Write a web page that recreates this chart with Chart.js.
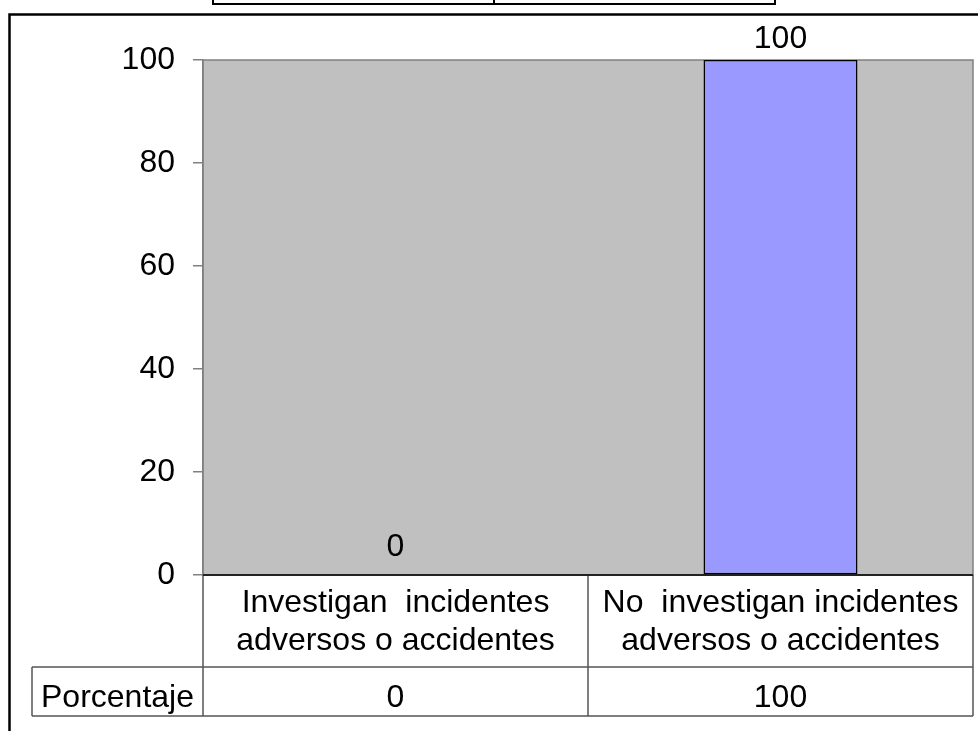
<!DOCTYPE html>
<html>
<head>
<meta charset="utf-8">
<script src="https://cdn.jsdelivr.net/npm/chart.js@4/dist/chart.umd.min.js"></script>
<style>
html,body{margin:0;padding:0;background:#fff;}
canvas{display:block;}
</style>
</head>
<body>
<canvas id="c" width="978" height="731"></canvas>
<script>
// ---- data ----
const categories = [
  ["Investigan  incidentes", "adversos o accidentes"],
  ["No  investigan incidentes", "adversos o accidentes"]
];
const seriesName = "Porcentaje";
const values = [0, 100];
const yTicks = [0, 20, 40, 60, 80, 100];

const FONT = '"Liberation Sans", Arial, sans-serif';
const FS = 32;

const decorPlugin = {
  id: 'decor',
  beforeDraw(chart) {
    const {ctx, chartArea: a} = chart;
    ctx.save();
    ctx.fillStyle = '#fff';
    ctx.fillRect(0, 0, chart.width, chart.height);
    // plot area background
    ctx.fillStyle = '#C0C0C0';
    ctx.fillRect(a.left, a.top, a.right - a.left, a.bottom - a.top);
    ctx.strokeStyle = '#808080';
    ctx.lineWidth = 1.5;
    ctx.strokeRect(a.left, a.top, a.right - a.left, a.bottom - a.top);
    ctx.restore();
  },
  afterDatasetsDraw(chart) {
    const {ctx} = chart;
    const meta = chart.getDatasetMeta(0);
    ctx.save();
    ctx.font = FS + 'px ' + FONT;
    ctx.fillStyle = '#000';
    ctx.textAlign = 'center';
    ctx.textBaseline = 'alphabetic';
    meta.data.forEach((bar, i) => {
      const v = chart.data.datasets[0].data[i];
      const off = v === 0 ? 19 : 12;
      ctx.fillText(String(v), bar.x, bar.y - off);
    });
    ctx.restore();
  },
  afterDraw(chart) {
    const {ctx, chartArea: a} = chart;
    const xs = chart.scales.x;
    const n = chart.data.labels.length;
    ctx.save();
    // column boundaries
    const bounds = [a.left];
    for (let i = 0; i < n - 1; i++) {
      bounds.push((xs.getPixelForValue(i) + xs.getPixelForValue(i + 1)) / 2);
    }
    bounds.push(a.right);
    const rowTop = a.bottom, rowMid = a.bottom + 92, rowBot = a.bottom + 141;
    const labelLeft = 32;
    ctx.strokeStyle = '#555';
    ctx.lineWidth = 1.5;
    ctx.beginPath();
    bounds.forEach((bx, i) => {
      ctx.moveTo(bx, rowTop);
      ctx.lineTo(bx, rowBot);
    });
    ctx.moveTo(labelLeft, rowMid); ctx.lineTo(a.right, rowMid);
    ctx.moveTo(labelLeft, rowBot); ctx.lineTo(a.right, rowBot);
    ctx.moveTo(labelLeft, rowMid); ctx.lineTo(labelLeft, rowBot);
    ctx.stroke();
    // axis baseline
    ctx.strokeStyle = '#222';
    ctx.lineWidth = 2;
    ctx.beginPath();
    ctx.moveTo(a.left, a.bottom); ctx.lineTo(a.right, a.bottom);
    ctx.stroke();
    // texts
    ctx.font = FS + 'px ' + FONT;
    ctx.fillStyle = '#000';
    ctx.textAlign = 'center';
    ctx.textBaseline = 'alphabetic';
    chart.data.labels.forEach((lab, i) => {
      const cx = (bounds[i] + bounds[i + 1]) / 2;
      const lines = Array.isArray(lab) ? lab : [lab];
      lines.forEach((ln, j) => ctx.fillText(ln, cx, rowTop + 37 + j * 38));
      ctx.fillText(String(chart.data.datasets[0].data[i]), cx, rowBot - 9);
    });
    ctx.fillText(chart.data.datasets[0].label, (labelLeft + a.left) / 2, rowBot - 9);
    // outer chart border
    ctx.strokeStyle = '#000';
    ctx.lineWidth = 2.5;
    ctx.beginPath();
    ctx.moveTo(9.5, chart.height + 5);
    ctx.lineTo(9.5, 14.5);
    ctx.lineTo(chart.width + 5, 14.5);
    ctx.stroke();
    // fragment of a box above the chart
    ctx.lineWidth = 2;
    ctx.beginPath();
    ctx.moveTo(213, -2); ctx.lineTo(213, 4); ctx.lineTo(775, 4); ctx.lineTo(775, -2);
    ctx.moveTo(494, -2); ctx.lineTo(494, 4);
    ctx.stroke();
    ctx.restore();
  }
};

new Chart(document.getElementById('c'), {
  type: 'bar',
  data: {
    labels: categories,
    datasets: [{
      label: seriesName,
      data: values,
      backgroundColor: '#9999FF',
      borderColor: '#000',
      borderWidth: 1.5,
      borderSkipped: false,
      categoryPercentage: 1,
      barPercentage: 0.4
    }]
  },
  options: {
    responsive: false,
    animation: false,
    devicePixelRatio: 1,
    layout: {padding: {left: 0, top: 60, right: 5, bottom: 156}},
    plugins: {legend: {display: false}, tooltip: {enabled: false}},
    scales: {
      x: {display: false, offset: true},
      y: {
        min: 0, max: 100,
        afterFit(scale) { scale.width = 203; },
        afterBuildTicks(scale) { scale.ticks = yTicks.map(v => ({value: v})); },
        ticks: {
          font: {family: FONT, size: FS},
          color: '#000',
          padding: 18
        },
        grid: {drawOnChartArea: false, drawTicks: true, tickLength: 10, color: '#808080', lineWidth: 1.5},
        border: {display: true, color: '#808080', width: 1.5}
      }
    }
  },
  plugins: [decorPlugin]
});
</script>
</body>
</html>
